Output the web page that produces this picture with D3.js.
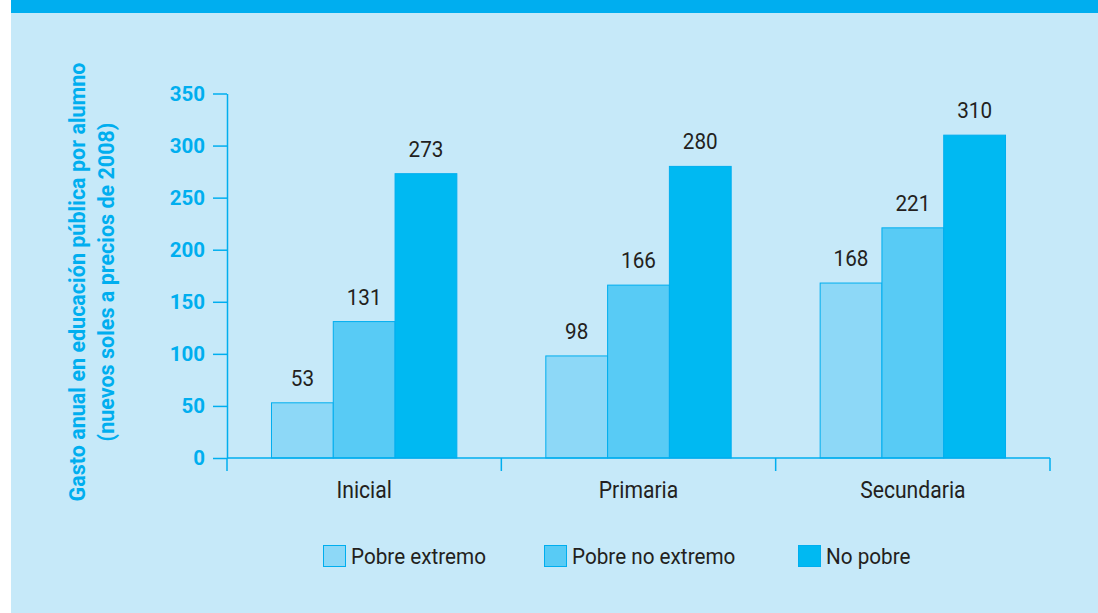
<!DOCTYPE html>
<html>
<head>
<meta charset="utf-8">
<script src="https://cdn.jsdelivr.net/npm/d3@7"></script>
<style>
    body { margin: 0; background: #ffffff; }
    svg { display: block; }
    text { font-family: 'Liberation Sans Narrow', 'Arial Narrow', 'Roboto', sans-serif; }
</style>
</head>
<body>
<script>
//data
var categories = [ 'Inicial' , 'Primaria' , 'Secundaria' ];
var seriesNames = [ 'Pobre extremo' , 'Pobre no extremo' , 'No pobre' ];
var pobreExtremo = [ 53 , 98 , 168 ];
var pobreNoExtremo = [ 131 , 166 , 221 ];
var noPobre = [ 273 , 280 , 310 ];
var yTicks = [ 0 , 50 , 100 , 150 , 200 , 250 , 300 , 350 ];
var yTitle = [ 'Gasto anual en educación pública por alumno' , '(nuevos soles a precios de 2008)' ];

var seriesValues = [ pobreExtremo , pobreNoExtremo , noPobre ];
var colors = [ '#8dd8f7' , '#58cbf5' , '#00b9f2' ];
var blue = '#00aeef';
var ink = '#231f20';
//the original type is a condensed face, squeeze Roboto a bit
var squeeze = 0.92;

var width = 1098, height = 613;

var svg = d3.select( 'body' )
    .append( 'svg' )
    .attr( 'width' , width )
    .attr( 'height', height );

//panel background + top band
svg.append( 'rect' )
    .attr( 'x' , 11 ).attr( 'y' , 0 )
    .attr( 'width' , width - 11 ).attr( 'height' , height )
    .attr( 'fill' , '#c6e9f9' );
svg.append( 'rect' )
    .attr( 'x' , 11 ).attr( 'y' , 0 )
    .attr( 'width' , width - 11 ).attr( 'height' , 13 )
    .attr( 'fill' , blue );

//scales
var x0 = d3.scaleBand()
    .domain( categories )
    .range( [ 227 , 1050 ] )
    .padding( 0 );

var x1 = d3.scaleBand()
    .domain( seriesNames )
    .range( [ 0 , x0.bandwidth() ] )
    .paddingInner( 0 )
    .paddingOuter( 0.72 );

var y = d3.scaleLinear()
    .domain( [ 0 , 350 ] )
    .range( [ 458 , 93.5 ] );

function at( xx , yy ) {
    return 'translate(' + xx + ',' + yy + ') scale(' + squeeze + ',1)';
}

//bars
var groups = svg.selectAll( 'g.cat' )
    .data( categories )
    .enter().append( 'g' )
    .attr( 'class' , 'cat' )
    .attr( 'transform' , function( d ) { return 'translate(' + x0( d ) + ',0)'; } );

groups.selectAll( 'rect' )
    .data( function( d , i ) {
        return seriesNames.map( function( s , j ) { return { s: s , j: j , v: seriesValues[ j ][ i ] }; } );
    } )
    .enter().append( 'rect' )
    .attr( 'x' , function( d ) { return x1( d.s ); } )
    .attr( 'y' , function( d ) { return y( d.v ); } )
    .attr( 'width' , x1.bandwidth() )
    .attr( 'height' , function( d ) { return y( 0 ) - y( d.v ); } )
    .attr( 'fill' , function( d ) { return colors[ d.j ]; } )
    .attr( 'stroke' , blue )
    .attr( 'stroke-width' , 1 );

//value labels
groups.selectAll( 'text' )
    .data( function( d , i ) {
        return seriesNames.map( function( s , j ) { return { s: s , v: seriesValues[ j ][ i ] }; } );
    } )
    .enter().append( 'text' )
    .attr( 'transform' , function( d ) { return at( x1( d.s ) + x1.bandwidth() / 2 , y( d.v ) - 17 ); } )
    .attr( 'text-anchor' , 'middle' )
    .attr( 'font-size' , 22.5 )
    .attr( 'fill' , ink )
    .text( function( d ) { return d.v; } );

//y axis
var yAxis = svg.append( 'g' )
    .attr( 'transform' , 'translate(227,0)' )
    .call( d3.axisLeft( y ).tickValues( yTicks ).tickSize( 14 ).tickSizeOuter( 0 ).tickPadding( 8 ) );
yAxis.select( '.domain' ).attr( 'stroke' , blue ).attr( 'stroke-width' , 1.5 );
yAxis.selectAll( '.tick line' ).attr( 'stroke' , blue ).attr( 'stroke-width' , 1.5 );
yAxis.selectAll( '.tick text' )
    .attr( 'fill' , blue )
    .attr( 'font-size' , 20.5 )
    .attr( 'font-weight' , 'bold' )
    .attr( 'font-family' , "'Liberation Sans Narrow', 'Arial Narrow', 'Roboto', sans-serif" );

//x axis: ticks sit on the category boundaries
var boundaries = categories.map( function( c ) { return x0( c ); } ).concat( [ x0.range()[ 1 ] ] );
var xAxis = svg.append( 'g' )
    .attr( 'transform' , 'translate(0,' + y( 0 ) + ')' );
xAxis.append( 'line' )
    .attr( 'x1' , x0.range()[ 0 ] ).attr( 'x2' , x0.range()[ 1 ] )
    .attr( 'stroke' , blue ).attr( 'stroke-width' , 1.5 );
xAxis.selectAll( 'line.tk' )
    .data( boundaries )
    .enter().append( 'line' )
    .attr( 'class' , 'tk' )
    .attr( 'x1' , function( d ) { return d; } ).attr( 'x2' , function( d ) { return d; } )
    .attr( 'y1' , 0 ).attr( 'y2' , 13 )
    .attr( 'stroke' , blue ).attr( 'stroke-width' , 1.5 );
xAxis.selectAll( 'text' )
    .data( categories )
    .enter().append( 'text' )
    .attr( 'transform' , function( d ) { return at( x0( d ) + x0.bandwidth() / 2 , 39.5 ); } )
    .attr( 'text-anchor' , 'middle' )
    .attr( 'font-size' , 23 )
    .attr( 'fill' , ink )
    .text( function( d ) { return d; } );

//y title, two rotated lines
svg.append( 'text' )
    .attr( 'transform' , 'translate(85,282) rotate(-90)' )
    .attr( 'text-anchor' , 'middle' )
    .attr( 'font-size' , 21.5 )
    .attr( 'font-weight' , 'bold' )
    .attr( 'fill' , blue )
    .selectAll( 'tspan' )
    .data( yTitle )
    .enter().append( 'tspan' )
    .attr( 'x' , 0 )
    .attr( 'dy' , function( d , i ) { return i === 0 ? 0 : 29; } )
    .text( function( d ) { return d; } );

//legend
var legendX = [ 323 , 544 , 798 ];
var legend = svg.selectAll( 'g.leg' )
    .data( seriesNames )
    .enter().append( 'g' )
    .attr( 'class' , 'leg' )
    .attr( 'transform' , function( d , i ) { return 'translate(' + legendX[ i ] + ',545)'; } );
legend.append( 'rect' )
    .attr( 'x' , 0.5 ).attr( 'y' , 0.5 )
    .attr( 'width' , 22 ).attr( 'height' , 21 )
    .attr( 'fill' , function( d , i ) { return colors[ i ]; } )
    .attr( 'stroke' , blue );
legend.append( 'text' )
    .attr( 'transform' , at( 28 , 18.5 ) )
    .attr( 'font-size' , 22.5 )
    .attr( 'fill' , ink )
    .text( function( d ) { return d; } );
</script>
</body>
</html>
